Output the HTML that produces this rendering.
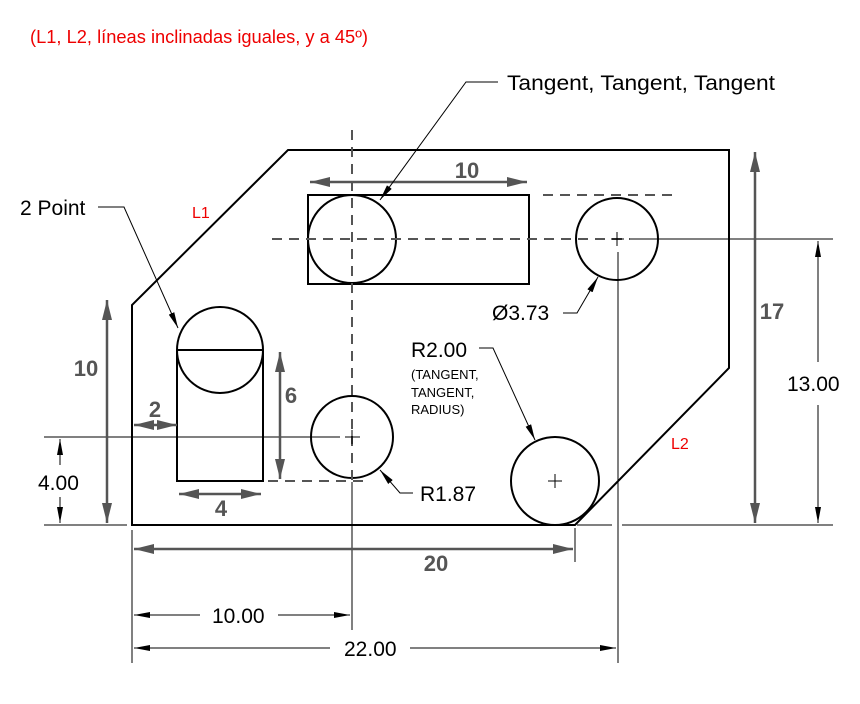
<!DOCTYPE html><html><head><style>body{margin:0;background:#fff}svg{display:block}</style></head><body>
<svg width="860" height="704" viewBox="0 0 860 704" xmlns="http://www.w3.org/2000/svg" font-family="Liberation Sans, sans-serif">
<defs>
<marker id="g" viewBox="0 0 20 10" refX="20" refY="5" markerWidth="20" markerHeight="10" markerUnits="userSpaceOnUse" orient="auto-start-reverse"><path d="M0,0L20,5L0,10z" fill="#555"/></marker>
<marker id="b" viewBox="0 0 16 6" refX="16" refY="3" markerWidth="16" markerHeight="6" markerUnits="userSpaceOnUse" orient="auto-start-reverse"><path d="M0,0L16,3L0,6z" fill="#000"/></marker>
</defs>
<text x="30" y="43" font-size="18" fill="#e00" textLength="338" lengthAdjust="spacingAndGlyphs">(L1, L2, líneas inclinadas iguales, y a 45º)</text>
<g fill="none" stroke="#000" stroke-width="2">
<path d="M132,525V305L288,150H729V368L575,525Z"/>
<rect x="308" y="195" width="221" height="89"/>
<circle cx="352" cy="239" r="44"/>
<circle cx="617" cy="239" r="41"/>
<path d="M177,350V481H263V350"/>
<circle cx="220" cy="350" r="43"/>
<path d="M177,350H263"/>
<circle cx="352" cy="437" r="41"/>
<circle cx="555" cy="481" r="44"/>
</g>
<g fill="none" stroke="#555" stroke-width="2" stroke-dasharray="10,7">
<path d="M272,239H630M543,195H677M352,130V482M268,481H368"/>
</g>
<g fill="none" stroke="#000" stroke-width="1">
<path d="M352,482V630M618,252V663M630,239H833M577,525H612M622,525H833M132,530V663M575,528V562M44,437H340M44,525H127"/>
<path d="M345,437H360M352,430V444M548,481H562M555,474V488M611,239H624M617,232V246"/>
</g>
<g stroke="#555" stroke-width="2.5" fill="none">
<path d="M310,182H527" marker-start="url(#g)" marker-end="url(#g)"/>
<path d="M755,152V523" marker-start="url(#g)" marker-end="url(#g)"/>
<path d="M107,300V523" marker-start="url(#g)" marker-end="url(#g)"/>
<path d="M134,425H177" marker-start="url(#g)" marker-end="url(#g)"/>
<path d="M179,494H261" marker-start="url(#g)" marker-end="url(#g)"/>
<path d="M280,352V479" marker-start="url(#g)" marker-end="url(#g)"/>
<path d="M134,549H573" marker-start="url(#g)" marker-end="url(#g)"/>
</g>
<g stroke="#000" stroke-width="1" fill="none">
<path d="M818,362V241" marker-end="url(#b)"/>
<path d="M818,405V523" marker-end="url(#b)"/>
<path d="M60,465V439" marker-end="url(#b)"/>
<path d="M60,497V523" marker-end="url(#b)"/>
<path d="M200,615H134" marker-end="url(#b)"/>
<path d="M278,615H350" marker-end="url(#b)"/>
<path d="M330,648H134" marker-end="url(#b)"/>
<path d="M410,648H616" marker-end="url(#b)"/>
<path d="M498,82H466L380,200" marker-end="url(#b)"/>
<path d="M98,207H124L178,328" marker-end="url(#b)"/>
<path d="M563,313H577L598,277" marker-end="url(#b)"/>
<path d="M479,348H493L535,440" marker-end="url(#b)"/>
<path d="M413,493H400L380,470" marker-end="url(#b)"/>
</g>
<g fill="#555" font-weight="bold" font-size="22" text-anchor="middle">
<text x="467" y="178">10</text>
<text x="772" y="319">17</text>
<text x="86" y="376">10</text>
<text x="155" y="417">2</text>
<text x="221" y="516">4</text>
<text x="291" y="403">6</text>
<text x="436" y="571">20</text>
</g>
<g fill="#000" font-size="21">
<text x="507" y="90" textLength="268" lengthAdjust="spacingAndGlyphs">Tangent, Tangent, Tangent</text>
<text x="20" y="215">2 Point</text>
<text x="492" y="320">Ø3.73</text>
<text x="411" y="357">R2.00</text>
<text x="420" y="501">R1.87</text>
<text x="787" y="391">13.00</text>
<text x="38" y="490">4.00</text>
<text x="212" y="623">10.00</text>
<text x="344" y="656">22.00</text>
</g>
<g fill="#000" font-size="13">
<text x="411" y="379">(TANGENT,</text>
<text x="411" y="397">TANGENT,</text>
<text x="411" y="414">RADIUS)</text>
</g>
<text x="192" y="218" font-size="16" fill="#e00">L1</text>
<text x="671" y="449" font-size="16" fill="#e00">L2</text>
</svg>
</body></html>
